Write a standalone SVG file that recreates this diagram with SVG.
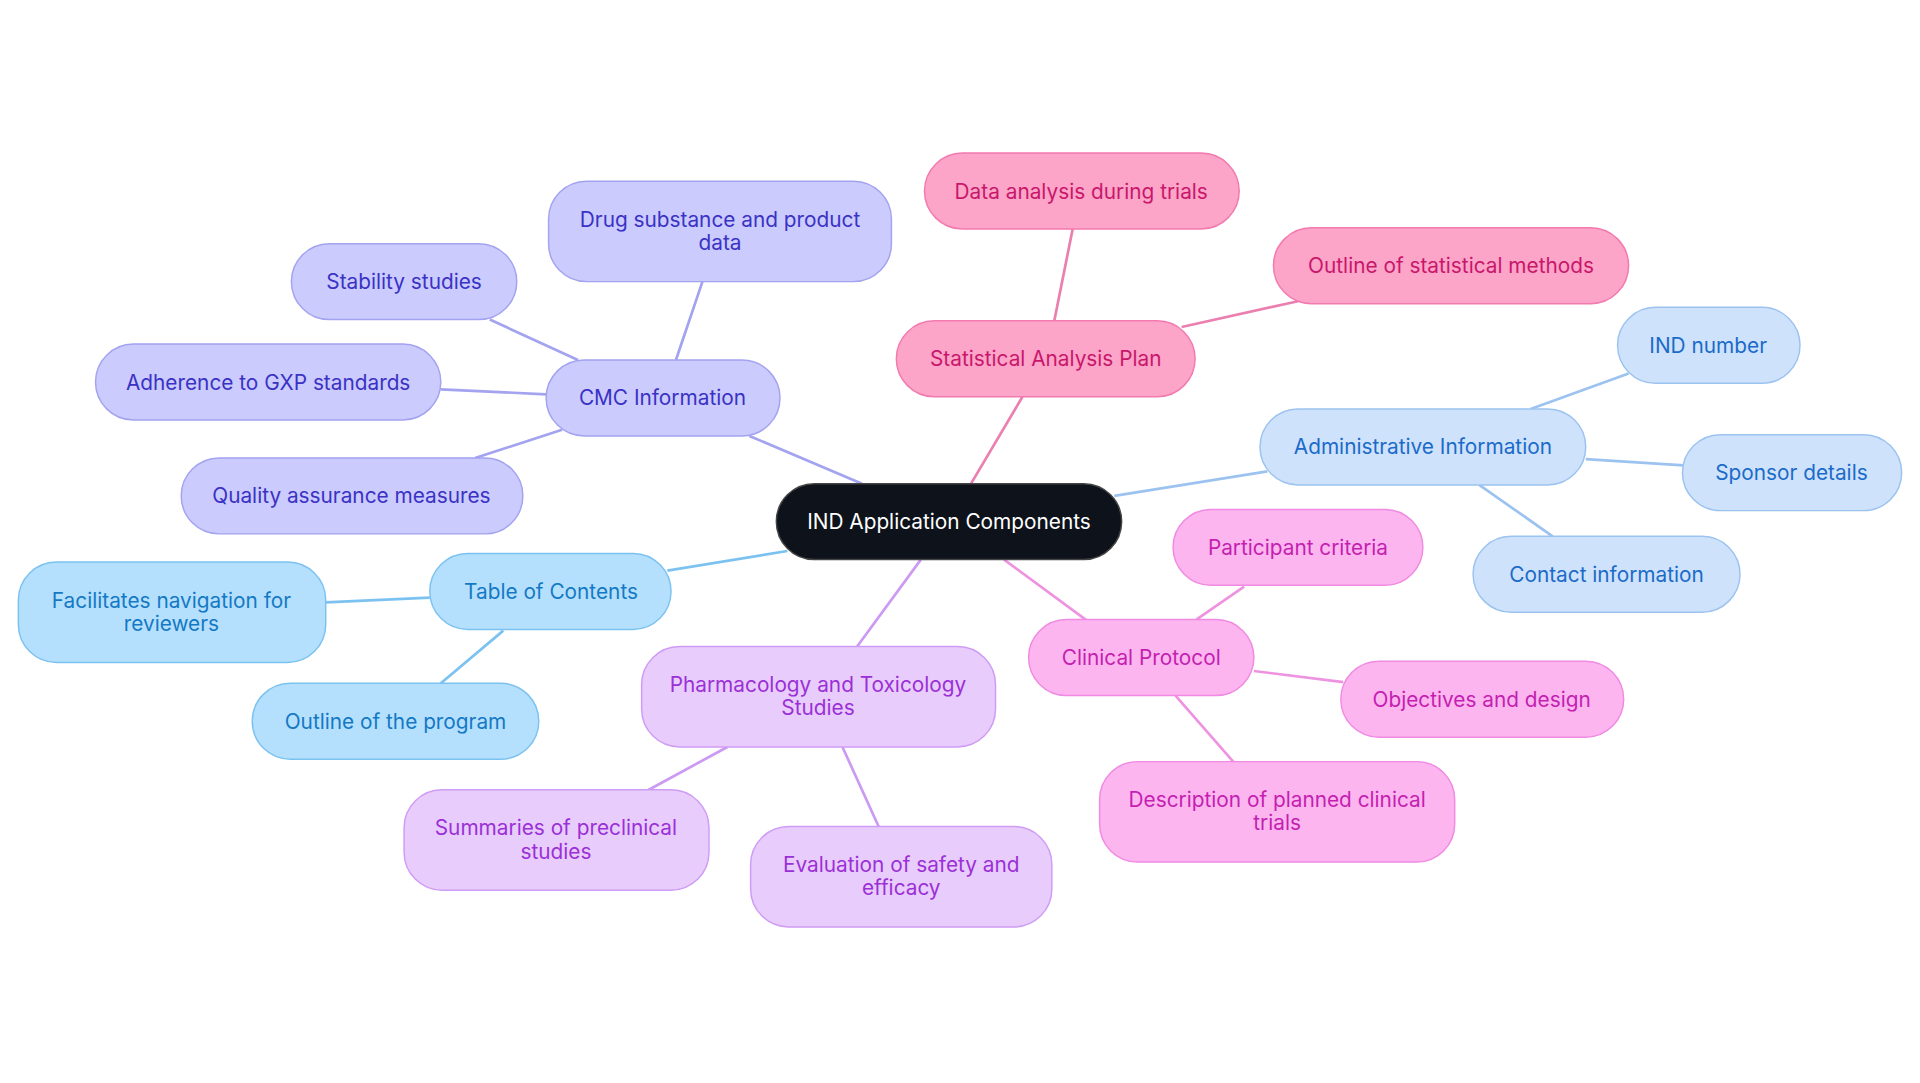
<svg xmlns="http://www.w3.org/2000/svg" width="1920" height="1083" viewBox="0 0 1920 1083">
<style>
text{font-family:Inter,"Noto Sans",sans-serif;font-size:17px;text-anchor:middle;dominant-baseline:central}
.e{stroke-width:2.2;fill:none}
.pk rect{fill:#fda4c9;stroke:#f27aae}.pk text{fill:#c8176b}
.bl rect{fill:#cfe2fb;stroke:#9cc3f0}.bl text{fill:#1a6bc9}
.mg rect{fill:#fdb5f0;stroke:#f08ae2}.mg text{fill:#c41fb0}
.pu rect{fill:#e8ccfc;stroke:#cf9cf5}.pu text{fill:#9b30d6}
.cy rect{fill:#b5e0fd;stroke:#7cc2f0}.cy text{fill:#1479c4}
.in rect{fill:#cbcbfd;stroke:#a3a3f0}.in text{fill:#3a32c4}
rect{stroke-width:1.2}
</style>
<rect width="1920" height="1083" fill="#fff"/>
<g transform="scale(1.2245)">
<g id="connectors">
<path class="e" stroke="#ea7fb0" d="M793 395L835 324M861 262L876 187M965 267L1060 246"/>
<path class="e" stroke="#9cc3f0" d="M910 405L1035 385M1250 334L1330 305M1295 375L1375 380M1208 396L1268 438"/>
<path class="e" stroke="#ee93e0" d="M820 457L888 507M977 506L1016 479M1024 548L1097 557M960 568L1008 623"/>
<path class="e" stroke="#cc99f3" d="M752 457L700 528M594 610L528 646M688 610L718 676"/>
<path class="e" stroke="#7cc2f0" d="M643 450L545 466M351 488L266 492M411 515L360 558"/>
<path class="e" stroke="#a3a3f0" d="M704 395L612 356M552 294L574 229M472 294L400 261M446 322L360 318M459 351L388 374"/>
</g>
<g id="center"><rect x="634" y="395" width="282" height="62" rx="31" fill="#0d121b" stroke="#444"/><text x="775" y="426" fill="#fff">IND Application Components</text></g>
<g id="sap" class="pk"><rect x="732" y="262" width="244" height="62" rx="31"/><text x="854" y="293">Statistical Analysis Plan</text></g>
<g id="data" class="pk"><rect x="755" y="125" width="257" height="62" rx="31"/><text x="883" y="156">Data analysis during trials</text></g>
<g id="outline-stat" class="pk"><rect x="1040" y="186" width="290" height="62" rx="31"/><text x="1185" y="217">Outline of statistical methods</text></g>
<g id="admin" class="bl"><rect x="1029" y="334" width="266" height="62" rx="31"/><text x="1162" y="365">Administrative Information</text></g>
<g id="ind" class="bl"><rect x="1321" y="251" width="149" height="62" rx="31"/><text x="1395" y="282">IND number</text></g>
<g id="sponsor" class="bl"><rect x="1374" y="355" width="179" height="62" rx="31"/><text x="1463" y="386">Sponsor details</text></g>
<g id="contact" class="bl"><rect x="1203" y="438" width="218" height="62" rx="31"/><text x="1312" y="469">Contact information</text></g>
<g id="clinical" class="mg"><rect x="840" y="506" width="184" height="62" rx="31"/><text x="932" y="537">Clinical Protocol</text></g>
<g id="participant" class="mg"><rect x="958" y="416" width="204" height="62" rx="31"/><text x="1060" y="447">Participant criteria</text></g>
<g id="objectives" class="mg"><rect x="1095" y="540" width="231" height="62" rx="31"/><text x="1210" y="571">Objectives and design</text></g>
<g id="description" class="mg"><rect x="898" y="622" width="290" height="82" rx="31"/><text x="1043" y="653">Description of planned clinical</text><text x="1043" y="672">trials</text></g>
<g id="pharm" class="pu"><rect x="524" y="528" width="289" height="82" rx="31"/><text x="668" y="559">Pharmacology and Toxicology</text><text x="668" y="578">Studies</text></g>
<g id="summaries" class="pu"><rect x="330" y="645" width="249" height="82" rx="31"/><text x="454" y="676">Summaries of preclinical</text><text x="454" y="695">studies</text></g>
<g id="evaluation" class="pu"><rect x="613" y="675" width="246" height="82" rx="31"/><text x="736" y="706">Evaluation of safety and</text><text x="736" y="725">efficacy</text></g>
<g id="toc" class="cy"><rect x="351" y="452" width="197" height="62" rx="31"/><text x="450" y="483">Table of Contents</text></g>
<g id="facilitates" class="cy"><rect x="15" y="459" width="251" height="82" rx="31"/><text x="140" y="490">Facilitates navigation for</text><text x="140" y="509">reviewers</text></g>
<g id="program" class="cy"><rect x="206" y="558" width="234" height="62" rx="31"/><text x="323" y="589">Outline of the program</text></g>
<g id="cmc" class="in"><rect x="446" y="294" width="191" height="62" rx="31"/><text x="541" y="325">CMC Information</text></g>
<g id="drug" class="in"><rect x="448" y="148" width="280" height="82" rx="31"/><text x="588" y="179">Drug substance and product</text><text x="588" y="198">data</text></g>
<g id="stability" class="in"><rect x="238" y="199" width="184" height="62" rx="31"/><text x="330" y="230">Stability studies</text></g>
<g id="gxp" class="in"><rect x="78" y="281" width="282" height="62" rx="31"/><text x="219" y="312">Adherence to GXP standards</text></g>
<g id="qa" class="in"><rect x="148" y="374" width="279" height="62" rx="31"/><text x="287" y="405">Quality assurance measures</text></g>
</g>
</svg>
